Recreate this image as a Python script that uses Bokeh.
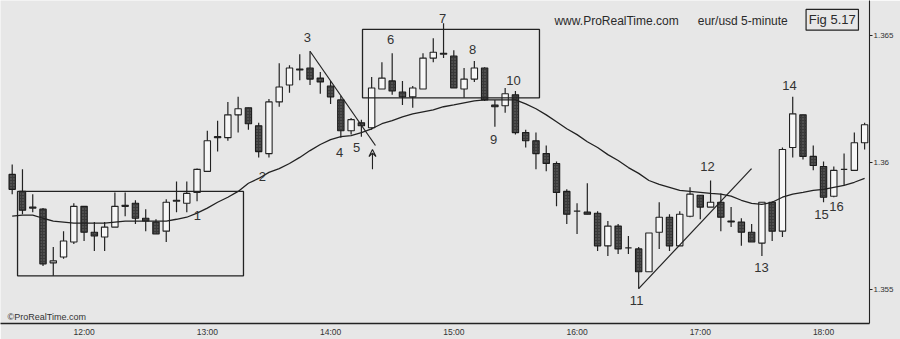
from bokeh.plotting import figure
from bokeh.models import Range1d, LinearAxis, FixedTicker, Arrow, VeeHead, ColumnDataSource
from bokeh.core.properties import value
from bokeh.embed import file_html
from bokeh.resources import INLINE

# ---- data (eur/usd 5-minute bars) ----
first_bar = "11:25"
bar_minutes = 5
opens = [1.35953, 1.35886, 1.35820, 1.35816, 1.35604, 1.35627, 1.35686, 1.35827, 1.35725, 1.35706,
         1.35745, 1.35827, 1.35839, 1.35780, 1.35765, 1.35729, 1.35847, 1.35839, 1.35882, 1.35965,
         1.36098, 1.36098, 1.36188, 1.36216, 1.36145, 1.36035, 1.36239, 1.36306, 1.36365, 1.36373,
         1.36333, 1.36302, 1.36247, 1.36125, 1.36157, 1.36137, 1.36290, 1.36322, 1.36278, 1.36259,
         1.36290, 1.36412, 1.36427, 1.36420, 1.36290, 1.36329, 1.36373, 1.36227, 1.36224, 1.36267,
         1.36118, 1.36086, 1.36035, 1.35996, 1.35886, 1.35808, 1.35804, 1.35800, 1.35671, 1.35749,
         1.35663, 1.35659, 1.35569, 1.35725, 1.35784, 1.35671, 1.35788, 1.35871, 1.35824, 1.35843,
         1.35769, 1.35765, 1.35725, 1.35682, 1.35843, 1.35729, 1.36059, 1.36188, 1.36024, 1.35984,
         1.35867, 1.35973, 1.35969, 1.36078]
highs = [1.35992, 1.35973, 1.35875, 1.35820, 1.35667, 1.35729, 1.35839, 1.35827, 1.35765, 1.35765,
         1.35882, 1.35882, 1.35851, 1.35816, 1.35776, 1.35855, 1.35925, 1.35925, 1.35976, 1.36125,
         1.36165, 1.36239, 1.36259, 1.36216, 1.36157, 1.36251, 1.36392, 1.36384, 1.36427, 1.36439,
         1.36357, 1.36322, 1.36263, 1.36176, 1.36169, 1.36337, 1.36396, 1.36431, 1.36322, 1.36302,
         1.36431, 1.36490, 1.36549, 1.36443, 1.36373, 1.36400, 1.36376, 1.36247, 1.36294, 1.36282,
         1.36129, 1.36118, 1.36067, 1.36004, 1.35894, 1.35839, 1.35918, 1.35808, 1.35769, 1.35757,
         1.35710, 1.35667, 1.35722, 1.35843, 1.35796, 1.35808, 1.35902, 1.35871, 1.35929, 1.35878,
         1.35824, 1.35780, 1.35757, 1.35843, 1.35847, 1.36059, 1.36259, 1.36188, 1.36067, 1.36004,
         1.35984, 1.36035, 1.36118, 1.36157]
lows = [1.35875, 1.35796, 1.35804, 1.35592, 1.35553, 1.35620, 1.35678, 1.35690, 1.35651, 1.35651,
        1.35745, 1.35788, 1.35757, 1.35729, 1.35718, 1.35686, 1.35804, 1.35804, 1.35847, 1.35965,
        1.36043, 1.36086, 1.36118, 1.36129, 1.36020, 1.36020, 1.36220, 1.36275, 1.36325, 1.36306,
        1.36271, 1.36231, 1.36098, 1.36110, 1.36102, 1.36129, 1.36290, 1.36267, 1.36227, 1.36216,
        1.36290, 1.36396, 1.36412, 1.36294, 1.36255, 1.36318, 1.36243, 1.36141, 1.36196, 1.36110,
        1.36059, 1.35973, 1.35965, 1.35827, 1.35757, 1.35718, 1.35796, 1.35651, 1.35631, 1.35639,
        1.35639, 1.35502, 1.35569, 1.35659, 1.35651, 1.35671, 1.35784, 1.35776, 1.35824, 1.35729,
        1.35745, 1.35671, 1.35686, 1.35631, 1.35690, 1.35706, 1.36020, 1.36012, 1.35969, 1.35843,
        1.35863, 1.35910, 1.35969, 1.36051]
closes = [1.35894, 1.35812, 1.35824, 1.35600, 1.35612, 1.35690, 1.35827, 1.35725, 1.35710, 1.35745,
          1.35827, 1.35831, 1.35780, 1.35769, 1.35718, 1.35843, 1.35851, 1.35878, 1.35973, 1.36086,
          1.36102, 1.36188, 1.36212, 1.36153, 1.36043, 1.36239, 1.36298, 1.36373, 1.36369, 1.36329,
          1.36318, 1.36259, 1.36125, 1.36169, 1.36145, 1.36294, 1.36333, 1.36282, 1.36259, 1.36294,
          1.36412, 1.36435, 1.36431, 1.36294, 1.36329, 1.36373, 1.36247, 1.36220, 1.36271, 1.36118,
          1.36086, 1.36035, 1.35996, 1.35882, 1.35796, 1.35808, 1.35796, 1.35671, 1.35749, 1.35659,
          1.35663, 1.35569, 1.35722, 1.35784, 1.35671, 1.35796, 1.35875, 1.35824, 1.35843, 1.35784,
          1.35765, 1.35725, 1.35686, 1.35843, 1.35729, 1.36051, 1.36192, 1.36024, 1.35988, 1.35863,
          1.35969, 1.35973, 1.36078, 1.36149]
moving_avg = [1.35788, 1.35792, 1.35792, 1.35780, 1.35769, 1.35765, 1.35761, 1.35761, 1.35761, 1.35761,
              1.35765, 1.35769, 1.35769, 1.35769, 1.35769, 1.35769, 1.35776, 1.35784, 1.35800, 1.35820,
              1.35843, 1.35863, 1.35886, 1.35918, 1.35937, 1.35961, 1.35976, 1.35996, 1.36020, 1.36047,
              1.36071, 1.36090, 1.36102, 1.36106, 1.36118, 1.36133, 1.36153, 1.36165, 1.36180, 1.36192,
              1.36200, 1.36208, 1.36220, 1.36227, 1.36235, 1.36243, 1.36247, 1.36247, 1.36247, 1.36247,
              1.36231, 1.36212, 1.36188, 1.36161, 1.36133, 1.36110, 1.36082, 1.36059, 1.36031, 1.36008,
              1.35980, 1.35957, 1.35929, 1.35914, 1.35902, 1.35890, 1.35886, 1.35882, 1.35878, 1.35875,
              1.35867, 1.35851, 1.35839, 1.35835, 1.35843, 1.35863, 1.35875, 1.35882, 1.35890, 1.35894,
              1.35902, 1.35910, 1.35922, 1.35937]
hour_labels = ["12:00", "13:00", "14:00", "15:00", "16:00", "17:00", "18:00"]
price_ticks = [1.355, 1.36, 1.365]
price_tick_labels = ["1.355", "1.36", "1.365"]

# ---- annotations (bar number / price positions) ----
pattern_labels = ["1", "2", "3", "4", "5", "6", "7", "8", "9", "10", "11", "12", "13", "14", "15", "16"]
pattern_label_x = [19.04, 25.37, 29.75, 32.87, 34.53, 37.84, 42.9, 45.82, 47.87, 49.82,
                   61.8, 68.7, 73.97, 76.69, 79.8, 81.27]
pattern_label_y = [1.35792, 1.35945, 1.36494, 1.36039, 1.36059, 1.36486, 1.36569, 1.36447, 1.36090, 1.36325,
                   1.35455, 1.35984, 1.35584, 1.36302, 1.35796, 1.35827]
box_left = [1.52, 35.11]
box_right = [23.52, 52.34]
box_top = [1.35886, 1.36525]
box_bottom = [1.35553, 1.36255]
trend_x0 = [30, 62]
trend_y0 = [1.36439, 1.35502]
trend_x1 = [36.37, 72.99]
trend_y1 = [1.36067, 1.35976]

BG = "#e7e7e7"
INK = "#222222"
FONT = "Liberation Sans"

n = len(opens)
xs = list(range(1, n + 1))
start_min = int(first_bar[:2]) * 60 + int(first_bar[3:])
hour_pos = [(int(h[:2]) * 60 - start_min) // bar_minutes + 1 for h in hour_labels]

p = figure(width=900, height=339, output_backend="svg", toolbar_location=None,
           x_range=Range1d(-0.139, 84.476), y_range=Range1d(1.353647, 1.366392),
           x_axis_type=None, y_axis_type=None,
           min_border_left=0, min_border_top=0, min_border_right=31, min_border_bottom=14,
           background_fill_color=BG, border_fill_color=BG, outline_line_color=None)
p.xgrid.visible = False
p.ygrid.visible = False

up = [i for i in range(n) if closes[i] >= opens[i]]
dn = [i for i in range(n) if closes[i] < opens[i]]

wicks = ColumnDataSource(dict(x=xs, h=highs, l=lows))
p.segment(x0="x", y0="h", x1="x", y1="l", source=wicks, line_color=INK, line_width=1.2)

def body_src(idx):
    return ColumnDataSource(dict(
        x=[xs[i] for i in idx],
        top=[max(opens[i], closes[i]) for i in idx],
        bottom=[min(opens[i], closes[i]) for i in idx]))

p.vbar(x="x", top="top", bottom="bottom", width=0.62, source=body_src(up),
       fill_color="#f7f7f7", line_color=INK, line_width=1.1)
p.vbar(x="x", top="top", bottom="bottom", width=0.62, source=body_src(dn),
       fill_color="#3a3a3a", line_color="#1c1c1c", line_width=1.1,
       hatch_pattern="dot", hatch_color="#6e6e6e", hatch_scale=3, hatch_weight=1)

p.line(xs, moving_avg, line_color=INK, line_width=1.3)

p.quad(left=box_left, right=box_right, top=box_top, bottom=box_bottom,
       fill_color=None, line_color=INK, line_width=1.3)
p.segment(x0=trend_x0, y0=trend_y0, x1=trend_x1, y1=trend_y1, line_color=INK, line_width=1.2)
p.add_layout(Arrow(end=VeeHead(size=7, line_color=INK, line_width=1.1, fill_color=None),
                   x_start=36.08, y_start=1.35973, x_end=36.08, y_end=1.36051,
                   line_color=INK, line_width=1.1))

p.text(x=pattern_label_x, y=pattern_label_y, text=pattern_labels,
       text_font=value(FONT), text_font_size="13px", text_color="#333333",
       text_align="center", text_baseline="middle")

# header
p.text(x=[53.8, 67.75], y=[1.36557, 1.36557], text=["www.ProRealTime.com", "eur/usd  5-minute"],
       text_font=value(FONT), text_font_size="12px", text_color="#2a2a2a",
       text_align="left", text_baseline="middle")
p.quad(left=[78.3], right=[83.4], top=[1.36604], bottom=[1.36522],
       fill_color=None, line_color=INK, line_width=1.2)
p.text(x=[80.85], y=[1.36563], text=["Fig 5.17"], text_font=value(FONT), text_font_size="13px",
       text_color="#2a2a2a", text_align="center", text_baseline="middle")
p.text(x=[0.55], y=[1.35392], text=["\u00a9ProRealTime.com"], text_font=value(FONT),
       text_font_size="9px", text_color="#333333", text_align="left", text_baseline="middle")

# axes
xaxis = LinearAxis(ticker=FixedTicker(ticks=hour_pos, minor_ticks=[]),
                   major_label_overrides={hp: lab for hp, lab in zip(hour_pos, hour_labels)},
                   axis_line_color=INK, axis_line_width=1.6,
                   major_tick_in=0, major_tick_out=0, minor_tick_out=0, minor_tick_in=0,
                   major_label_standoff=3, major_label_text_font=FONT,
                   major_label_text_font_size="8.5px", major_label_text_color="#333333")
p.add_layout(xaxis, "below")
yaxis = LinearAxis(ticker=FixedTicker(ticks=price_ticks, minor_ticks=[]),
                   major_label_overrides={t: lab for t, lab in zip(price_ticks, price_tick_labels)},
                   axis_line_color=INK, axis_line_width=1.1,
                   major_tick_in=0, major_tick_out=3, major_tick_line_color=INK,
                   minor_tick_out=0, minor_tick_in=0,
                   major_label_standoff=1, major_label_text_font=FONT,
                   major_label_text_font_size="8px", major_label_text_color="#333333")
p.add_layout(yaxis, "right")

html = file_html(p, INLINE)
html = html.replace("<body>", '<body style="background-color:#e7e7e7">', 1)
open("out.html", "w").write(html)
